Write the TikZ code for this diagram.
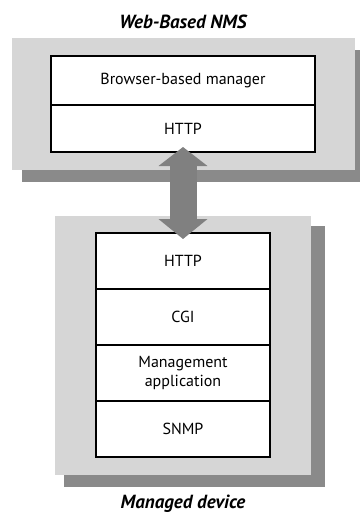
\documentclass[tikz,border=0pt]{standalone}
\usepackage{fontspec}
\setmainfont{PT Sans}
\usetikzlibrary{positioning, arrows.meta}

\tikzset{
  layer/.style={draw=black, line width=1.2pt, fill=white, minimum width=#1,
    outer sep=0pt, inner sep=0pt, align=center,
    font=\fontsize{16}{19}\selectfont},
  panel/.style={fill=black!16},
  shade/.style={fill=black!46},
  heading/.style={font=\bfseries\itshape\fontsize{19}{19}\selectfont},
  bigarrow/.style={draw=gray, line width=27pt,
    {Triangle[width=48pt,length=19pt]}-{Triangle[width=48pt,length=20pt]},
    shorten <=-5pt, shorten >=-6pt}
}

\begin{document}
\begin{tikzpicture}[x=1pt,y=-1pt]
  \useasboundingbox (0,0) rectangle (359,514);

  % Web-based NMS panel with its shadow
  \fill[shade] (22,50) rectangle (365,182);
  \fill[panel] (12,38) rectangle (355,170);
  \node[heading] (webtitle) at (183,22) {Web-Based NMS};
  \node[layer=264pt, minimum height=49pt, anchor=north west] (manager) at (51,56) {Browser-based manager};
  \node[layer=264pt, minimum height=47pt, below=0pt of manager] (webhttp) {HTTP};

  % Managed device panel with its shadow
  \fill[shade] (64,226) rectangle (325,487);
  \fill[panel] (55,216) rectangle (311,475);
  \node[layer=174pt, minimum height=56pt, anchor=north west] (devhttp) at (96,233) {HTTP};
  \node[layer=174pt, minimum height=56pt, below=0pt of devhttp] (cgi) {CGI};
  \node[layer=174pt, minimum height=56pt, below=0pt of cgi] (mgmt) {Management\\application};
  \node[layer=174pt, minimum height=56pt, below=0pt of mgmt] (snmp) {SNMP};
  \node[heading] (devtitle) at (183,504) {Managed device};

  % HTTP link between the two
  \draw[bigarrow] (webhttp.south) -- (devhttp.north);
\end{tikzpicture}
\end{document}
